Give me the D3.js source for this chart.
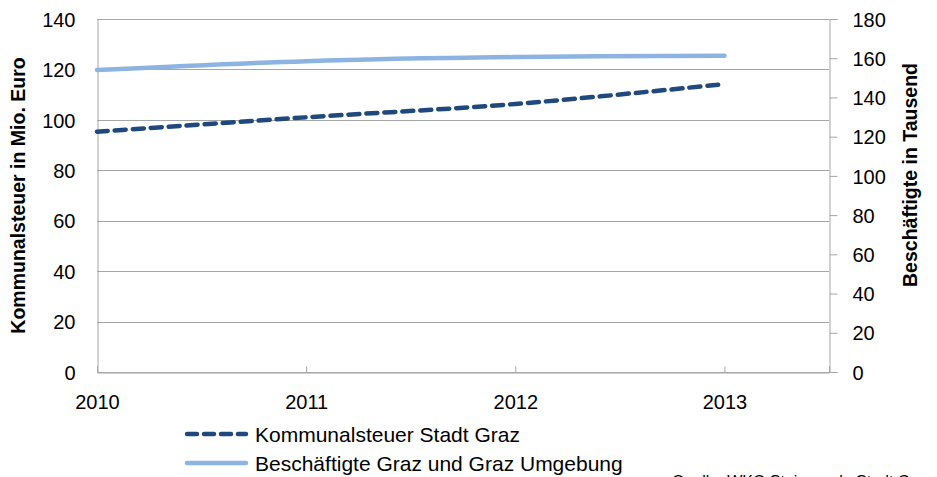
<!DOCTYPE html>
<html>
<head>
<meta charset="utf-8">
<script src="https://cdn.jsdelivr.net/npm/d3@7"></script>
<style>
  html, body { margin: 0; padding: 0; background: #fff; }
  svg { display: block; font-family: "Liberation Sans", Arial, sans-serif; }
</style>
</head>
<body>
<svg id="chart" width="937" height="477"></svg>
<script>
// Jahre und Werte
const years = [2010, 2011, 2012, 2013];
const kommunalsteuer = [95.3, 101.0, 106.3, 114.2];   // Mio. Euro (linke Achse)
const beschaeftigte = [154.0, 158.5, 160.6, 161.3];   // Tausend (rechte Achse)
const leftTicks = [0, 20, 40, 60, 80, 100, 120, 140];
const rightTicks = [0, 20, 40, 60, 80, 100, 120, 140, 160, 180];
const seriesNames = ["Kommunalsteuer Stadt Graz", "Beschäftigte Graz und Graz Umgebung"];
const leftTitle = "Kommunalsteuer in Mio. Euro";
const rightTitle = "Beschäftigte in Tausend";
const sourceText = "Quelle: WKO Steiermark, Stadt Graz";

const svg = d3.select("#chart");
const plot = { left: 97, right: 829, top: 19, bottom: 372 };

const x = d3.scaleLinear().domain([2010, 2013.5]).range([plot.left, plot.right]);
const yL = d3.scaleLinear().domain([0, 140]).range([plot.bottom, plot.top]);
const yR = d3.scaleLinear().domain([0, 180]).range([plot.bottom, plot.top]);

const gridColor = "#a6a6a6";
const darkBlue = "#1f497d";
const lightBlue = "#8db3e2";
const font = "Liberation Sans, Arial, sans-serif";

// horizontal gridlines from the left axis
svg.append("g")
  .selectAll("line")
  .data(leftTicks)
  .join("line")
  .attr("x1", plot.left).attr("x2", plot.right)
  .attr("y1", d => Math.round(yL(d)) + 0.5).attr("y2", d => Math.round(yL(d)) + 0.5)
  .attr("stroke", gridColor).attr("stroke-width", 1);

// left axis
const gLeft = svg.append("g").attr("transform", `translate(${plot.left + 0.5},0)`)
  .call(d3.axisLeft(yL).tickValues(leftTicks).tickSize(0).tickPadding(22));
gLeft.select(".domain").attr("stroke", gridColor);
gLeft.selectAll("text").attr("font-size", 20).attr("fill", "#000")
  .attr("font-family", font).attr("dy", "0.36em");

// right axis
const gRight = svg.append("g").attr("transform", `translate(${plot.right + 0.5},0)`)
  .call(d3.axisRight(yR).tickValues(rightTicks).tickSize(8).tickPadding(15));
gRight.select(".domain").attr("stroke", gridColor);
gRight.selectAll(".tick line").attr("stroke", gridColor);
gRight.selectAll("text").attr("font-size", 20).attr("fill", "#000")
  .attr("font-family", font).attr("dy", "0.36em");

// bottom axis
const gBottom = svg.append("g").attr("transform", `translate(0,${plot.bottom + 0.5})`)
  .call(d3.axisBottom(x).tickValues(years).tickFormat(d3.format("d")).tickSize(-6).tickPadding(22));
gBottom.select(".domain").attr("stroke", gridColor);
gBottom.selectAll(".tick line").attr("stroke", gridColor);
gBottom.selectAll("text").attr("font-size", 20).attr("fill", "#000")
  .attr("font-family", font);

// axis titles
svg.append("text")
  .attr("transform", `translate(25,${(plot.top + plot.bottom) / 2}) rotate(-90)`)
  .attr("text-anchor", "middle")
  .attr("font-size", 19.5).attr("font-weight", "bold")
  .text(leftTitle);
svg.append("text")
  .attr("transform", `translate(917,175) rotate(-90)`)
  .attr("text-anchor", "middle")
  .attr("font-size", 19.5).attr("font-weight", "bold")
  .text(rightTitle);

// lines
const curve = d3.curveCatmullRom.alpha(0);
const lineL = d3.line().x((d, i) => x(years[i])).y(d => yL(d)).curve(curve);
const lineR = d3.line().x((d, i) => x(years[i])).y(d => yR(d)).curve(curve);

svg.append("path").datum(beschaeftigte)
  .attr("d", lineR).attr("fill", "none")
  .attr("stroke", lightBlue).attr("stroke-width", 4.5).attr("stroke-linecap", "round");

svg.append("path").datum(kommunalsteuer)
  .attr("d", lineL).attr("fill", "none")
  .attr("stroke", darkBlue).attr("stroke-width", 4.5)
  .attr("stroke-dasharray", "11,7").attr("stroke-linecap", "round");

// legend
const legend = svg.append("g");
const legendItems = [
  { name: seriesNames[0], color: darkBlue, dash: "10,7", y: 434 },
  { name: seriesNames[1], color: lightBlue, dash: null, y: 463 }
];
legendItems.forEach(it => {
  legend.append("line")
    .attr("x1", 187).attr("x2", 246).attr("y1", it.y).attr("y2", it.y)
    .attr("stroke", it.color).attr("stroke-width", 4.5)
    .attr("stroke-linecap", "round")
    .attr("stroke-dasharray", it.dash);
  legend.append("text")
    .attr("x", 255).attr("y", it.y + 8)
    .attr("font-size", 21).attr("fill", "#000")
    .text(it.name);
});

// source note
svg.append("text")
  .attr("x", 672).attr("y", 487)
  .attr("font-size", 16).attr("fill", "#000")
  .text(sourceText);
</script>
</body>
</html>
